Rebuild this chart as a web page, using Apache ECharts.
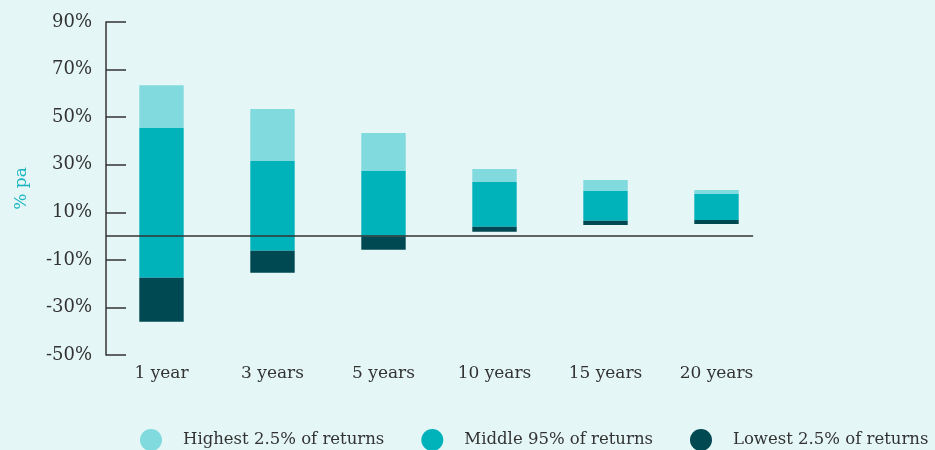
<!DOCTYPE html>
<html>
<head>
<meta charset="utf-8">
<script src="https://cdn.jsdelivr.net/npm/echarts@6/dist/echarts.min.js"></script>
<style>
  html, body { margin: 0; padding: 0; background: #e5f6f6; }
  #chart { width: 935px; height: 450px; }
</style>
</head>
<body>
<div id="chart"></div>
<script>
// holding periods
const categories = ['1 year', '3 years', '5 years', '10 years', '15 years', '20 years'];
// return ranges, % pa
const lowest = [-36.0, -15.4, -5.8, 1.8, 4.7, 5.1];      // bottom of range
const lowerBound = [-17.5, -6.2, -0.3, 3.9, 6.4, 6.8];   // 2.5th percentile
const upperBound = [45.4, 31.6, 27.4, 22.7, 19.0, 17.7]; // 97.5th percentile
const highest = [63.4, 53.4, 43.3, 28.2, 23.6, 19.4];    // top of range
const seriesNames = ['Highest 2.5% of returns', 'Middle 95% of returns', 'Lowest 2.5% of returns'];
const colors = ['#80dade', '#00b3bb', '#004852'];

const FONT = 'DejaVu Serif';

// floating bar drawn from lo to hi through the axes
function rangeSeries(name, color, lo, hi) {
  return {
    name: name,
    type: 'custom',
    itemStyle: { color: color },
    encode: { x: 0, y: [1, 2] },
    data: categories.map((c, i) => [i, lo[i], hi[i]]),
    renderItem: function (params, api) {
      const a = api.coord([api.value(0), api.value(1)]);
      const b = api.coord([api.value(0), api.value(2)]);
      const w = api.size([1, 0])[0] * 0.4;
      return {
        type: 'rect',
        shape: { x: a[0] - w / 2, y: Math.min(a[1], b[1]), width: w, height: Math.abs(a[1] - b[1]) },
        style: { fill: color }
      };
    }
  };
}

const chart = echarts.init(document.getElementById('chart'));
chart.setOption({
  backgroundColor: '#e5f6f6',
  animation: false,
  textStyle: { fontFamily: FONT },
  grid: { left: 106, right: 163, top: 22, bottom: 95 },
  legend: {
    data: seriesNames,
    left: 140,
    top: 429,
    width: 900,
    padding: 0,
    icon: 'circle',
    itemWidth: 22,
    itemHeight: 22,
    itemGap: 37,
    textStyle: { fontFamily: FONT, fontSize: 16.5, color: '#333', padding: [0, 0, 0, 16] }
  },
  xAxis: [
    {
      type: 'category',
      data: categories,
      axisLine: { show: false },
      axisTick: { show: false },
      axisLabel: { color: '#333', fontSize: 17, fontFamily: FONT, margin: 10 }
    },
    { type: 'value', min: -0.5, max: 5.5, show: false }
  ],
  yAxis: {
    type: 'value',
    min: -50,
    max: 90,
    interval: 20,
    name: '% pa',
    nameLocation: 'middle',
    nameGap: 76,
    nameTextStyle: { color: '#1ab5c0', fontSize: 17, fontFamily: FONT },
    axisLine: { show: true, onZero: false, lineStyle: { color: '#333', width: 1.5 } },
    axisTick: { show: true, inside: true, length: 20, lineStyle: { color: '#333', width: 1.5 } },
    axisLabel: { color: '#333', fontSize: 18, fontFamily: FONT, margin: 14, formatter: '{value}%' },
    splitLine: { show: false }
  },
  series: [
    rangeSeries(seriesNames[0], colors[0], upperBound, highest),
    rangeSeries(seriesNames[1], colors[1], lowerBound, upperBound),
    rangeSeries(seriesNames[2], colors[2], lowest, lowerBound),
    {
      // zero reference line
      type: 'line',
      xAxisIndex: 1,
      silent: true,
      symbol: 'none',
      z: 5,
      lineStyle: { color: '#333', width: 1.5 },
      data: [[-0.5, 0], [5.33, 0]]
    }
  ]
});
</script>
</body>
</html>
